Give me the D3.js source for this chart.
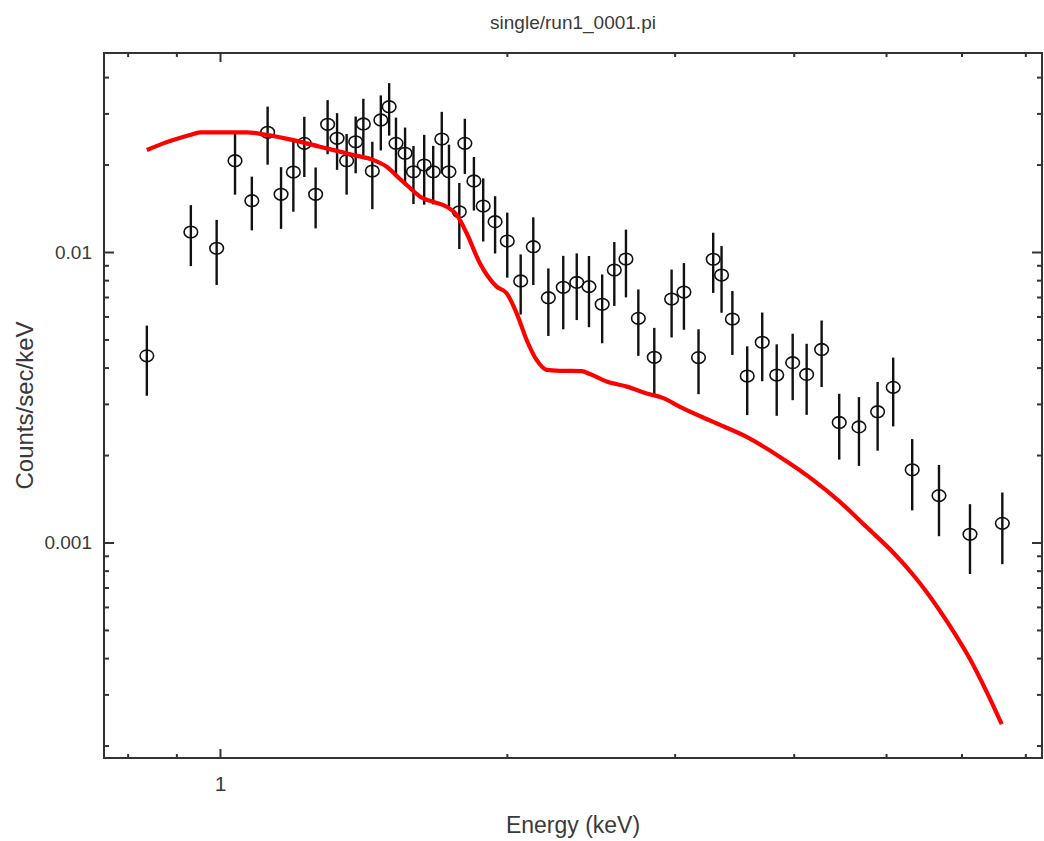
<!DOCTYPE html>
<html>
<head>
<meta charset="utf-8">
<script src="https://cdn.jsdelivr.net/npm/d3@7"></script>
<style>
  html, body { margin: 0; padding: 0; background: #ffffff; }
  svg text { font-family: "Liberation Sans", Arial, Helvetica, sans-serif; fill: #3a3a3a; }
</style>
</head>
<body>
<svg id="chart" width="1044" height="841"></svg>
<script>
// Observed spectrum: bin energies (keV), count rates and 1-sigma errors (counts/sec/keV)
const energy = [0.838,0.932,0.992,1.037,1.080,1.122,1.159,1.194,1.226,1.260,
  1.297,1.327,1.358,1.388,1.414,1.445,1.475,1.505,1.530,1.564,
  1.596,1.638,1.674,1.709,1.739,1.783,1.807,1.847,1.889,1.944,
  2.002,2.068,2.132,2.211,2.292,2.368,2.439,2.518,2.593,2.667,
  2.748,2.856,2.978,3.068,3.178,3.293,3.360,3.449,3.575,3.707,
  3.839,3.990,4.127,4.279,4.465,4.683,4.899,5.087,5.326,5.682,6.124,6.622];
const rate = [0.00439,0.01172,0.01030,0.02062,0.01502,0.02582,0.01580,0.01885,0.02366,0.01580,
  0.02752,0.02462,0.02062,0.02396,0.02759,0.01900,0.02848,0.03164,0.02366,0.02187,
  0.01889,0.01993,0.01889,0.02449,0.01889,0.01376,0.02366,0.01756,0.01440,0.01272,
  0.01091,0.00795,0.01043,0.00696,0.00756,0.00786,0.00760,0.00661,0.00867,0.00946,
  0.00591,0.00434,0.00689,0.00728,0.00433,0.00944,0.00833,0.00588,0.00374,0.00489,
  0.00377,0.00416,0.00379,0.00462,0.00259,0.00250,0.00282,0.00342,0.00178,0.00145,0.001067,0.001164];
const rateErr = [0.00119,0.00278,0.00260,0.00487,0.00315,0.00584,0.00379,0.00509,0.00554,0.00374,
  0.00581,0.00544,0.00487,0.00530,0.00610,0.00496,0.00612,0.00649,0.00535,0.00494,
  0.00427,0.00538,0.00431,0.00588,0.00453,0.00352,0.00509,0.00367,0.00353,0.00284,
  0.00275,0.00186,0.00273,0.00182,0.00214,0.00203,0.00209,0.00176,0.00215,0.00248,
  0.00152,0.00114,0.00181,0.00188,0.00109,0.00221,0.00215,0.00146,0.000995,0.00130,
  0.00104,0.00107,0.00104,0.00119,0.00066,0.000665,0.00075,0.00091,0.00049,0.000399,0.000288,0.000322];

// Folded model curve
const modelEnergy = [0.838,0.872,0.930,0.953,1.067,1.110,1.194,1.273,1.380,1.448,
  1.496,1.545,1.583,1.622,1.674,1.729,1.772,1.815,1.874,1.951,
  1.999,2.048,2.098,2.149,2.202,2.275,2.396,2.445,2.546,2.673,
  2.804,2.919,3.039,3.293,3.570,3.869,4.194,4.473,4.770,5.087,
  5.340,5.514,5.834,6.124,6.376,6.612];
const modelRate = [0.02245,0.02366,0.02527,0.02582,0.02582,0.02541,0.02428,0.02304,0.02158,0.02074,
  0.01966,0.01784,0.01661,0.01550,0.01489,0.01432,0.01341,0.01160,0.00914,0.00760,
  0.00721,0.00615,0.00498,0.00425,0.00393,0.00390,0.00389,0.00380,0.00358,0.00344,
  0.00326,0.00314,0.00293,0.00260,0.00231,0.00197,0.00164,0.00138,0.00113,0.000924,
  0.000773,0.000676,0.000516,0.000397,0.000306,0.000237];

// Axis ranges and ticks
const xDomain = [0.7556, 7.288];
const yDomain = [1.812e-4, 0.04842];
const xMajorTicks = [1];
const xMinorTicks = [0.8, 0.9, 2, 3, 4, 5, 6, 7];
const yMajorTicks = [0.001, 0.01];
const yMinorTicks = [0.0002,0.0003,0.0004,0.0005,0.0006,0.0007,0.0008,0.0009,
  0.002,0.003,0.004,0.005,0.006,0.007,0.008,0.009,0.02,0.03,0.04];

const titleText = "single/run1_0001.pi";
const xLabel = "Energy (keV)";
const yLabel = "Counts/sec/keV";

const m = { left: 104, right: 1042, top: 53, bottom: 758 };
const svg = d3.select("#chart");

const x = d3.scaleLog().domain(xDomain).range([m.left, m.right]);
const y = d3.scaleLog().domain(yDomain).range([m.bottom, m.top]);

const axisInk = "#333";

function styleAxis(fontSize) {
  return g => {
    g.select(".domain").remove();
    g.selectAll(".tick line").attr("stroke", axisInk).attr("stroke-width", 2);
    g.selectAll(".tick text").attr("fill", "#3a3a3a").style("font-size", fontSize + "px")
      .style("font-family", "'Liberation Sans', Arial, sans-serif");
  };
}

// bottom axis (ticks point inward)
svg.append("g").attr("transform", `translate(0,${m.bottom})`)
  .call(d3.axisBottom(x).tickValues(xMinorTicks).tickSizeInner(-4).tickSizeOuter(0).tickFormat(""))
  .call(styleAxis(18));
svg.append("g").attr("transform", `translate(0,${m.bottom})`)
  .call(d3.axisBottom(x).tickValues(xMajorTicks).tickSizeInner(-9).tickSizeOuter(0)
    .tickPadding(18).tickFormat(d3.format("")))
  .call(styleAxis(21));
// top axis
svg.append("g").attr("transform", `translate(0,${m.top})`)
  .call(d3.axisTop(x).tickValues(xMinorTicks).tickSizeInner(-4).tickSizeOuter(0).tickFormat(""))
  .call(styleAxis(18));
svg.append("g").attr("transform", `translate(0,${m.top})`)
  .call(d3.axisTop(x).tickValues(xMajorTicks).tickSizeInner(-9).tickSizeOuter(0).tickFormat(""))
  .call(styleAxis(18));
// left axis
svg.append("g").attr("transform", `translate(${m.left},0)`)
  .call(d3.axisLeft(y).tickValues(yMinorTicks).tickSizeInner(-5).tickSizeOuter(0).tickFormat(""))
  .call(styleAxis(18));
svg.append("g").attr("transform", `translate(${m.left},0)`)
  .call(d3.axisLeft(y).tickValues(yMajorTicks).tickSizeInner(-10).tickSizeOuter(0)
    .tickPadding(12).tickFormat(d => d === 0.01 ? "0.01" : "0.001"))
  .call(styleAxis(19));
// right axis
svg.append("g").attr("transform", `translate(${m.right},0)`)
  .call(d3.axisRight(y).tickValues(yMinorTicks).tickSizeInner(-5).tickSizeOuter(0).tickFormat(""))
  .call(styleAxis(18));
svg.append("g").attr("transform", `translate(${m.right},0)`)
  .call(d3.axisRight(y).tickValues(yMajorTicks).tickSizeInner(-10).tickSizeOuter(0).tickFormat(""))
  .call(styleAxis(18));

// plot frame
svg.append("rect")
  .attr("x", m.left).attr("y", m.top)
  .attr("width", m.right - m.left).attr("height", m.bottom - m.top)
  .attr("fill", "none").attr("stroke", axisInk).attr("stroke-width", 2);

// data points with error bars
const pts = energy.map((e, i) => ({ e, v: rate[i], s: rateErr[i] }));
const dataG = svg.append("g");
dataG.selectAll("line.err").data(pts).join("line")
  .attr("class", "err")
  .attr("x1", d => x(d.e)).attr("x2", d => x(d.e))
  .attr("y1", d => y(d.v + d.s)).attr("y2", d => y(d.v - d.s))
  .attr("stroke", "#111").attr("stroke-width", 2.4);
dataG.selectAll("ellipse").data(pts).join("ellipse")
  .attr("cx", d => x(d.e)).attr("cy", d => y(d.v))
  .attr("rx", 6.8).attr("ry", 5.8)
  .attr("fill", "none").attr("stroke", "#111").attr("stroke-width", 1.6);

// model curve
const model = modelEnergy.map((e, i) => ({ e, v: modelRate[i] }));
svg.append("path")
  .datum(model)
  .attr("fill", "none")
  .attr("stroke", "#ff0000")
  .attr("stroke-width", 4.2)
  .attr("stroke-linejoin", "round")
  .attr("d", d3.line().x(d => x(d.e)).y(d => y(d.v)).curve(d3.curveMonotoneX));

// titles
svg.append("text")
  .attr("x", (m.left + m.right) / 2).attr("y", 29)
  .attr("text-anchor", "middle").style("font-size", "19px")
  .text(titleText);
svg.append("text")
  .attr("x", (m.left + m.right) / 2).attr("y", 833)
  .attr("text-anchor", "middle").style("font-size", "23px")
  .text(xLabel);
svg.append("text")
  .attr("transform", `translate(33,${(m.top + m.bottom) / 2}) rotate(-90)`)
  .attr("text-anchor", "middle").style("font-size", "24px")
  .text(yLabel);
</script>
</body>
</html>
